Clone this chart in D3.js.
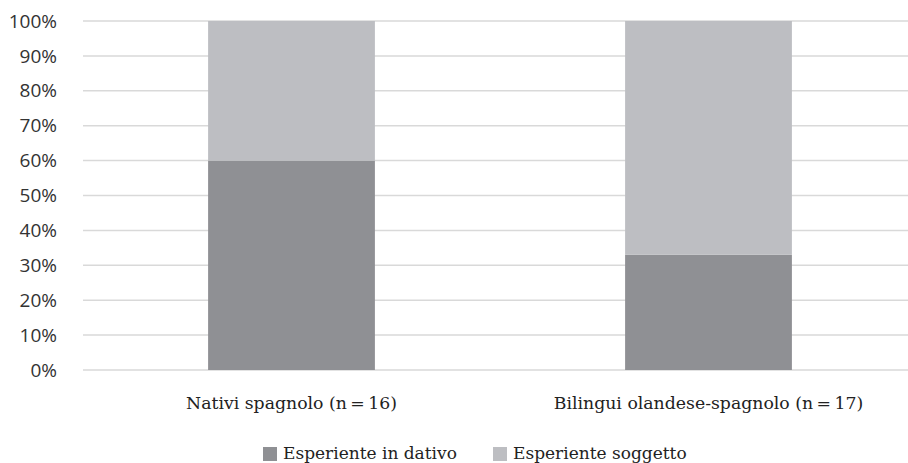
<!DOCTYPE html>
<html>
<head>
  <meta charset="utf-8">
  <title>Esperiente in dativo vs soggetto</title>
  <script src="https://d3js.org/d3.v7.min.js"></script>
  <style>
    body { margin: 0; background: #fff; }
    .tick-label { font-family: "Open Sans", sans-serif; font-size: 19px; fill: #333; }
    .cat-label { font-family: "DejaVu Serif", serif; font-size: 17.3px; fill: #222; }
    .legend-label { font-family: "DejaVu Serif", serif; font-size: 17px; fill: #222; }
    .grid { stroke: #d9d9d9; stroke-width: 1.5; }
  </style>
</head>
<body>
<script>
  // data
  const categories = ["Nativi spagnolo (n\u2009=\u200916)", "Bilingui olandese-spagnolo (n\u2009=\u200917)"];
  const seriesNames = ["Esperiente in dativo", "Esperiente soggetto"];
  const dativo = [60, 33];
  const soggetto = [40, 67];
  const yTicks = [0, 10, 20, 30, 40, 50, 60, 70, 80, 90, 100];
  const colors = ["#8f9094", "#bdbec2"];

  const W = 908, H = 463;
  const margin = {top: 21, left: 83, bottom: 93};

  const svg = d3.select("body").append("svg")
    .attr("width", W)
    .attr("height", H);

  const x = d3.scaleBand()
    .domain(categories)
    .range([margin.left, margin.left + 834])
    .paddingInner(0.6)
    .paddingOuter(0.3);

  const y = d3.scaleLinear()
    .domain([0, 100])
    .range([H - margin.bottom, margin.top]);

  // gridlines + tick labels
  svg.selectAll(".grid")
    .data(yTicks)
    .enter().append("line")
    .attr("class", "grid")
    .attr("x1", margin.left)
    .attr("x2", W)
    .attr("y1", d => y(d))
    .attr("y2", d => y(d));

  svg.selectAll(".tick-label")
    .data(yTicks)
    .enter().append("text")
    .attr("class", "tick-label")
    .attr("x", 57)
    .attr("y", d => y(d))
    .attr("dy", "0.35em")
    .attr("text-anchor", "end")
    .text(d => d + "%");

  // stacked bars
  const rows = categories.map((c, i) => ({cat: c, vals: [dativo[i], soggetto[i]]}));
  rows.forEach(r => {
    let base = 0;
    r.vals.forEach((v, j) => {
      svg.append("rect")
        .attr("x", x(r.cat))
        .attr("width", x.bandwidth())
        .attr("y", y(base + v))
        .attr("height", y(base) - y(base + v))
        .attr("fill", colors[j]);
      base += v;
    });
  });

  // category labels
  svg.selectAll(".cat-label")
    .data(categories)
    .enter().append("text")
    .attr("class", "cat-label")
    .attr("x", d => x(d) + x.bandwidth() / 2)
    .attr("y", 409)
    .attr("text-anchor", "middle")
    .text(d => d);

  // legend
  const legendX = [263, 493];
  seriesNames.forEach((s, i) => {
    svg.append("rect")
      .attr("x", legendX[i])
      .attr("y", 447)
      .attr("width", 14)
      .attr("height", 14)
      .attr("fill", colors[i]);
    svg.append("text")
      .attr("class", "legend-label")
      .attr("x", legendX[i] + 20)
      .attr("y", 459)
      .text(s);
  });
</script>
</body>
</html>
